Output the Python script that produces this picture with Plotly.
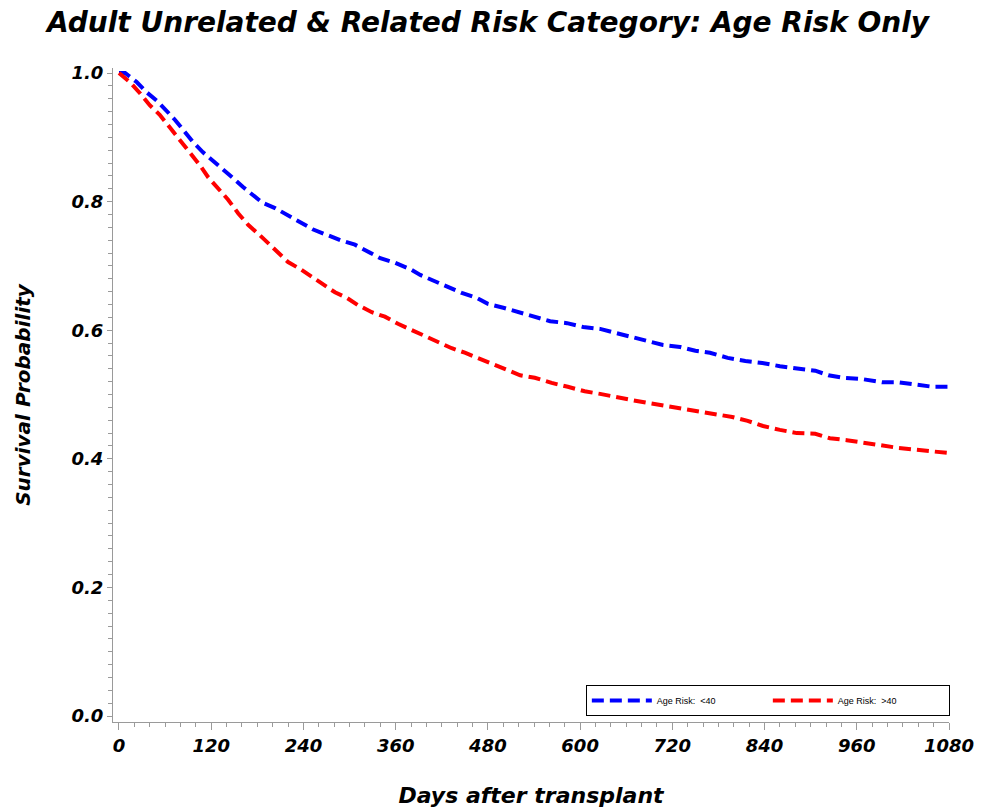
import plotly.graph_objects as go

# Kaplan-Meier style survival estimates, by age risk group
days_lt40 = [0, 8, 23, 36, 51, 62, 73, 86, 96, 109, 121, 135, 148, 161, 174, 187, 203, 219,
             236, 252, 271, 288, 307, 324, 340, 359, 379, 392, 409, 427, 446, 466, 480, 500,
             522, 541, 561, 583, 604, 626, 645, 668, 687, 708, 730, 750, 769, 792, 815, 837,
             860, 882, 906, 923, 942, 967, 993, 1014, 1038, 1059, 1080]
surv_lt40 = [1.000, 1.000, 0.986, 0.970, 0.955, 0.942, 0.927, 0.908, 0.893, 0.877, 0.865, 0.849,
             0.837, 0.823, 0.810, 0.798, 0.790, 0.779, 0.768, 0.757, 0.748, 0.740, 0.733, 0.722,
             0.712, 0.705, 0.695, 0.686, 0.677, 0.667, 0.658, 0.650, 0.641, 0.635, 0.628, 0.621,
             0.614, 0.611, 0.605, 0.602, 0.596, 0.589, 0.583, 0.577, 0.574, 0.568, 0.565, 0.557,
             0.552, 0.549, 0.544, 0.540, 0.537, 0.530, 0.526, 0.524, 0.519, 0.519, 0.516, 0.512,
             0.512]

days_gt40 = [0, 14, 27, 40, 53, 66, 79, 92, 105, 116, 129, 142, 155, 168, 183, 196, 209, 220,
             236, 251, 265, 281, 297, 311, 329, 346, 363, 381, 396, 414, 433, 450, 470, 487,
             505, 522, 541, 563, 584, 606, 626, 645, 669, 688, 713, 733, 756, 776, 798, 818,
             838, 860, 882, 906, 925, 947, 968, 990, 1014, 1038, 1059, 1080]
surv_gt40 = [1.000, 0.986, 0.969, 0.950, 0.935, 0.916, 0.896, 0.876, 0.857, 0.838, 0.821, 0.803,
             0.782, 0.764, 0.748, 0.733, 0.717, 0.706, 0.695, 0.683, 0.670, 0.659, 0.650, 0.639,
             0.628, 0.621, 0.610, 0.600, 0.593, 0.582, 0.572, 0.565, 0.555, 0.546, 0.537, 0.530,
             0.526, 0.518, 0.512, 0.505, 0.501, 0.496, 0.491, 0.487, 0.482, 0.479, 0.473, 0.470,
             0.465, 0.459, 0.451, 0.445, 0.440, 0.439, 0.432, 0.429, 0.425, 0.420, 0.417, 0.414,
             0.411, 0.409]

x_ticks = [0, 120, 240, 360, 480, 600, 720, 840, 960, 1080]
y_ticks = [0.0, 0.2, 0.4, 0.6, 0.8, 1.0]
y_tick_text = ["0.0", "0.2", "0.4", "0.6", "0.8", "1.0"]

FONT = "DejaVu Sans, Liberation Sans, sans-serif"
LEGEND_FONT = "Liberation Sans, Arial, sans-serif"
AXIS_GREY = "#9a9a9a"

fig = go.Figure()
fig.add_trace(go.Scatter(
    x=days_lt40, y=surv_lt40, mode="lines", name="Age Risk:  <40",
    line=dict(color="#0000ff", width=4, dash="12px,6px", shape="linear"),
))
fig.add_trace(go.Scatter(
    x=days_gt40, y=surv_gt40, mode="lines", name="Age Risk:  >40",
    line=dict(color="#ff0000", width=4, dash="12px,6px", shape="linear"),
))

tick_font = dict(family=FONT, size=18, color="black", weight="bold", style="italic")

fig.update_layout(
    width=982, height=810,
    margin=dict(l=113, r=33, t=68, b=88),
    paper_bgcolor="white", plot_bgcolor="white",
    showlegend=True,
    title=dict(
        text="Adult Unrelated & Related Risk Category: Age Risk Only",
        x=0.497, xanchor="center", y=0.973, yanchor="middle",
        font=dict(family=FONT, size=28, color="black", weight="bold", style="italic"),
    ),
    legend=dict(
        orientation="h", x=1.001, xanchor="right", y=0.009, yanchor="bottom",
        bgcolor="white", bordercolor="black", borderwidth=1,
        font=dict(family=LEGEND_FONT, size=9, color="black"),
        entrywidth=106, entrywidthmode="pixels",
        itemwidth=60,
    ),
    xaxis=dict(
        range=[-7.8, 1080], showgrid=False, zeroline=False, automargin=False,
        showline=True, linecolor=AXIS_GREY, linewidth=1,
        tickmode="array", tickvals=x_ticks,
        ticks="outside", ticklen=7, tickcolor=AXIS_GREY,
        minor=dict(dtick=20, tick0=0, ticks="outside", ticklen=4, tickcolor=AXIS_GREY),
        tickfont=tick_font,
        title=dict(text="Days after transplant", standoff=33,
                   font=dict(family=FONT, size=22, color="black", weight="bold", style="italic")),
    ),
    yaxis=dict(
        range=[-0.0093, 1.0078], showgrid=False, zeroline=False, automargin=False,
        showline=True, linecolor=AXIS_GREY, linewidth=1,
        tickmode="array", tickvals=y_ticks, ticktext=y_tick_text,
        ticks="outside", ticklen=5, tickcolor=AXIS_GREY,
        minor=dict(dtick=0.02, tick0=0, ticks="outside", ticklen=4, tickcolor=AXIS_GREY),
        tickfont=tick_font,
        title=dict(text="Survival Probability", standoff=35,
                   font=dict(family=FONT, size=20, color="black", weight="bold", style="italic")),
    ),
)

fig.write_html("out.html")
